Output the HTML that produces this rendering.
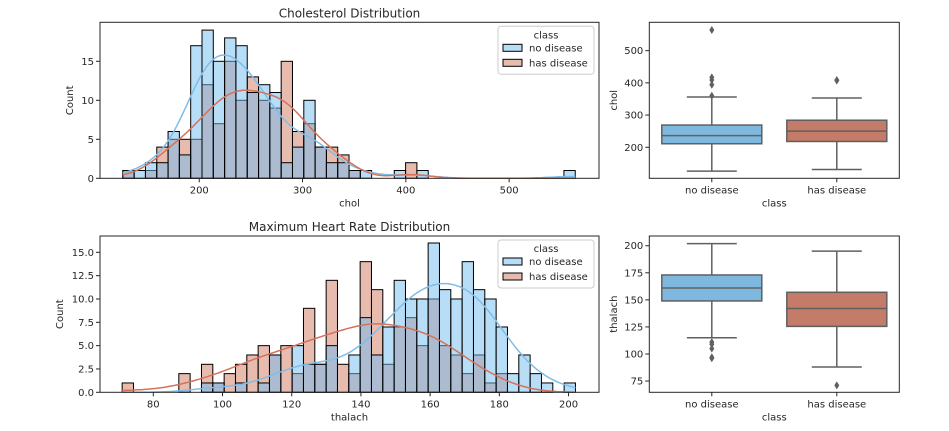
<!DOCTYPE html>
<html><head><meta charset="utf-8">
<style>
html,body{margin:0;padding:0;background:#fff;}
svg{display:block;font-family:"DejaVu Sans","Liberation Sans",sans-serif;}
text{fill:#262626;}
</style></head>
<body>
<svg id="fig" width="949" height="431" viewBox="0 0 949 431" xmlns="http://www.w3.org/2000/svg"></svg>
<script>
// ---- Data: cholesterol histogram (40 bins from 126 to 564)
const cholRange = [126, 564];
const cholNoDisease = [1,1,2,2,6,3,17,19,15,18,17,11,12,11,2,4,10,4,2,2,1,1,0,0,1,0,1,0,0,0,0,0,0,0,0,0,0,0,0,1];
const cholHasDisease = [1,0,1,4,5,5,5,12,7,15,10,13,10,9,15,6,7,4,4,3,1,0,0,0,0,2,0,0,0,0,0,0,0,0,0,0,0,0,0,0];
const cholXTicks = [200,300,400,500];
const cholYTicks = [0,5,10,15];
// ---- Data: thalach histogram (40 bins from 71 to 202)
const thalRange = [71, 202];
const thalNoDisease = [0,0,0,0,0,0,0,1,1,0,1,0,1,4,0,5,3,3,5,0,4,8,4,7,12,10,10,16,11,10,14,11,10,7,2,4,2,1,0,1];
const thalHasDisease = [1,0,0,0,0,2,0,3,1,2,3,4,5,4,5,2,9,3,12,3,2,14,11,3,7,8,5,10,5,4,2,4,1,2,0,0,0,0,0,0];
const thalXTicks = [80,100,120,140,160,180,200];
const thalYTicks = [0,2.5,5,7.5,10,12.5,15];
// ---- Boxplot stats [whiskerLow, q1, median, q3, whiskerHigh]
const boxCategories = ["no disease","has disease"];
const cholBoxNo = [126,211,236,269,356];
const cholBoxHas = [131,218,250,284,353];
const cholOutNo = [564,417,409,394,360];
const cholOutHas = [409,407];
const cholBoxTicks = [200,300,400,500];
const thalBoxNo = [115,149,161,173,202];
const thalBoxHas = [88,125.5,142,157,195];
const thalOutNo = [111,109,105,97,96];
const thalOutHas = [71];
const thalBoxTicks = [75,100,125,150,175,200];

const NS="http://www.w3.org/2000/svg";
const svg=document.getElementById('fig');
function mk(tag,attrs,parent){const e=document.createElementNS(NS,tag);for(const k in attrs)e.setAttribute(k,attrs[k]);(parent||svg).appendChild(e);return e;}
function txt(s,attrs,parent){const e=mk('text',attrs,parent);e.textContent=s;return e;}

const BLUE="#72bcef", ORANGE="#d0775d", KBLUE="#7fbdea", KOR="#d4735a";
const BOXBLUE="#7fb8de", BOXOR="#c47c68";

function kde(counts,lo,hi,x){
  const n=counts.length,w=(hi-lo)/n;let N=0,m=0;
  counts.forEach((c,i)=>{N+=c;m+=c*(lo+(i+.5)*w);});m/=N;
  let v=0;counts.forEach((c,i)=>{const d=lo+(i+.5)*w-m;v+=c*d*d;});v/=(N-1);
  const bw=Math.sqrt(v)*Math.pow(N,-0.2);
  let s=0;counts.forEach((c,i)=>{const d=(x-(lo+(i+.5)*w))/bw;s+=c*Math.exp(-.5*d*d);});
  return s/(bw*Math.sqrt(2*Math.PI))*w;
}

function hist(cfg){
  const g=mk('g',{});
  
  
  const {L,T,R,B,xmin,xmax,ymax}=cfg;
  const sx=v=>L+(v-xmin)/(xmax-xmin)*(R-L), sy=v=>B-v/ymax*(B-T);
  const n=cfg.a.length,w=(cfg.range[1]-cfg.range[0])/n;
  [[cfg.b,ORANGE,'has-disease'],[cfg.a,BLUE,'no-disease']].forEach(([arr,col,nm])=>{
    arr.forEach((c,i)=>{if(!c)return;const x0=sx(cfg.range[0]+i*w),x1=sx(cfg.range[0]+(i+1)*w);
      const r=mk('rect',{x:x0,y:sy(c),width:x1-x0,height:sy(0)-sy(c),fill:col,'fill-opacity':.5,stroke:'#000','stroke-width':1},g);
      
      });
  });
  [[cfg.a,KBLUE,'kde-no-disease'],[cfg.b,KOR,'kde-has-disease']].forEach(([arr,col,nm])=>{
    let d='';for(let k=0;k<=200;k++){const x=cfg.range[0]+(cfg.range[1]-cfg.range[0])*k/200;d+=(k?'L':'M')+sx(x).toFixed(1)+','+sy(kde(arr,cfg.range[0],cfg.range[1],x)).toFixed(1);}
    const p=mk('path',{d,fill:'none',stroke:col,'stroke-width':1.5},g);
    
    
  });
  mk('rect',{x:L,y:T,width:R-L,height:B-T,fill:'none',stroke:'#262626','stroke-width':1},g);
  cfg.xt.forEach(t=>{const x=sx(t);mk('line',{x1:x,x2:x,y1:B,y2:B+4,stroke:'#262626'},g);
    const e=txt(String(t),{x,y:B+15,'font-size':10,'text-anchor':'middle'},g);
    });
  cfg.yt.forEach(t=>{const y=sy(t);mk('line',{x1:L-4,x2:L,y1:y,y2:y,stroke:'#262626'},g);
    const e=txt(cfg.yfmt(t),{x:L-6,y:y+3.5,'font-size':10,'text-anchor':'end'},g);
    });
  const xl=txt(cfg.xlabel,{x:(L+R)/2,y:B+28,'font-size':10,'text-anchor':'middle'},g);
  
  const yl=txt('Count',{x:0,y:0,'font-size':10,'text-anchor':'middle',transform:`translate(${cfg.ylx},${(T+B)/2}) rotate(-90)`},g);
  
  const ti=txt(cfg.title,{x:(L+R)/2,y:T-5,'font-size':12,'text-anchor':'middle'},g);
  
  const lg=mk('g',{},g);
  
  
  const lx=R-101,ly=T+4;
  mk('rect',{x:lx,y:ly,width:96,height:48,rx:3,fill:'#fff','fill-opacity':.8,stroke:'#ccc'},lg);
  txt('class',{x:lx+48,y:ly+12,'font-size':10,'text-anchor':'middle'},lg);
  [['no disease',BLUE],['has disease',ORANGE]].forEach(([s,c],i)=>{
    const e=mk('rect',{x:lx+5,y:ly+18+i*15,width:19,height:7,fill:c,'fill-opacity':.5,stroke:'#000'},lg);
    
    const t=txt(s,{x:lx+31,y:ly+25+i*15,'font-size':10},lg);
    
  });
}

function box(cfg){
  const g=mk('g',{});
  
  
  const {L,T,R,B,ymin,ymax}=cfg;
  const sy=v=>B-(v-ymin)/(ymax-ymin)*(B-T);
  const cw=(R-L)/boxCategories.length;
  const G='#606060';
  [[cfg.no,cfg.outNo,BOXBLUE],[cfg.has,cfg.outHas,BOXOR]].forEach(([s,out,col],i)=>{
    const cx=L+cw*(i+.5),hw=cw*0.4;
    const bg=mk('g',{},g);
    
    
    mk('line',{x1:cx,x2:cx,y1:sy(s[0]),y2:sy(s[1]),stroke:G,'stroke-width':1.5},bg);
    mk('line',{x1:cx,x2:cx,y1:sy(s[3]),y2:sy(s[4]),stroke:G,'stroke-width':1.5},bg);
    mk('line',{x1:cx-hw/2,x2:cx+hw/2,y1:sy(s[0]),y2:sy(s[0]),stroke:G,'stroke-width':1.5},bg);
    mk('line',{x1:cx-hw/2,x2:cx+hw/2,y1:sy(s[4]),y2:sy(s[4]),stroke:G,'stroke-width':1.5},bg);
    mk('rect',{x:cx-hw,y:sy(s[3]),width:2*hw,height:sy(s[1])-sy(s[3]),fill:col,stroke:G,'stroke-width':1.5},bg);
    mk('line',{x1:cx-hw,x2:cx+hw,y1:sy(s[2]),y2:sy(s[2]),stroke:G,'stroke-width':1.5},bg);
    out.forEach(o=>{const y=sy(o);const p=mk('path',{d:`M${cx},${y-4}L${cx+2.5},${y}L${cx},${y+4}L${cx-2.5},${y}Z`,fill:G},bg);
      });
    mk('line',{x1:cx,x2:cx,y1:B,y2:B+4,stroke:'#262626'},g);
    const t=txt(boxCategories[i],{x:cx,y:B+15,'font-size':10,'text-anchor':'middle'},g);
    
  });
  mk('rect',{x:L,y:T,width:R-L,height:B-T,fill:'none',stroke:'#262626'},g);
  cfg.yt.forEach(t=>{const y=sy(t);mk('line',{x1:L-4,x2:L,y1:y,y2:y,stroke:'#262626'},g);
    const e=txt(String(t),{x:L-6,y:y+3.5,'font-size':10,'text-anchor':'end'},g);
    });
  const xl=txt('class',{x:(L+R)/2,y:B+28,'font-size':10,'text-anchor':'middle'},g);
  
  const yl=txt(cfg.ylabel,{x:0,y:0,'font-size':10,'text-anchor':'middle',transform:`translate(${cfg.ylx},${(T+B)/2}) rotate(-90)`},g);
  
}

hist({name:'cholesterol-histogram',L:100,T:22.3,R:599,B:178.3,xmin:103.9,xmax:587,ymax:20,range:cholRange,a:cholNoDisease,b:cholHasDisease,xt:cholXTicks,yt:cholYTicks,yfmt:t=>String(t),xlabel:'chol',title:'Cholesterol Distribution',ylx:73});
hist({name:'heart-rate-histogram',L:100,T:236,R:599,B:392.3,xmin:64.6,xmax:208.8,ymax:16.75,range:thalRange,a:thalNoDisease,b:thalHasDisease,xt:thalXTicks,yt:thalYTicks,yfmt:t=>t.toFixed(1),xlabel:'thalach',title:'Maximum Heart Rate Distribution',ylx:63});
box({name:'cholesterol-boxplot',L:649.3,T:22.3,R:899.3,B:178.3,ymin:103.7,ymax:588,no:cholBoxNo,has:cholBoxHas,outNo:cholOutNo,outHas:cholOutHas,yt:cholBoxTicks,ylabel:'chol',ylx:617});
box({name:'heart-rate-boxplot',L:649.3,T:236,R:899.3,B:392.3,ymin:64.6,ymax:209,no:thalBoxNo,has:thalBoxHas,outNo:thalOutNo,outHas:thalOutHas,yt:thalBoxTicks,ylabel:'thalach',ylx:617});
</script>
</body></html>
